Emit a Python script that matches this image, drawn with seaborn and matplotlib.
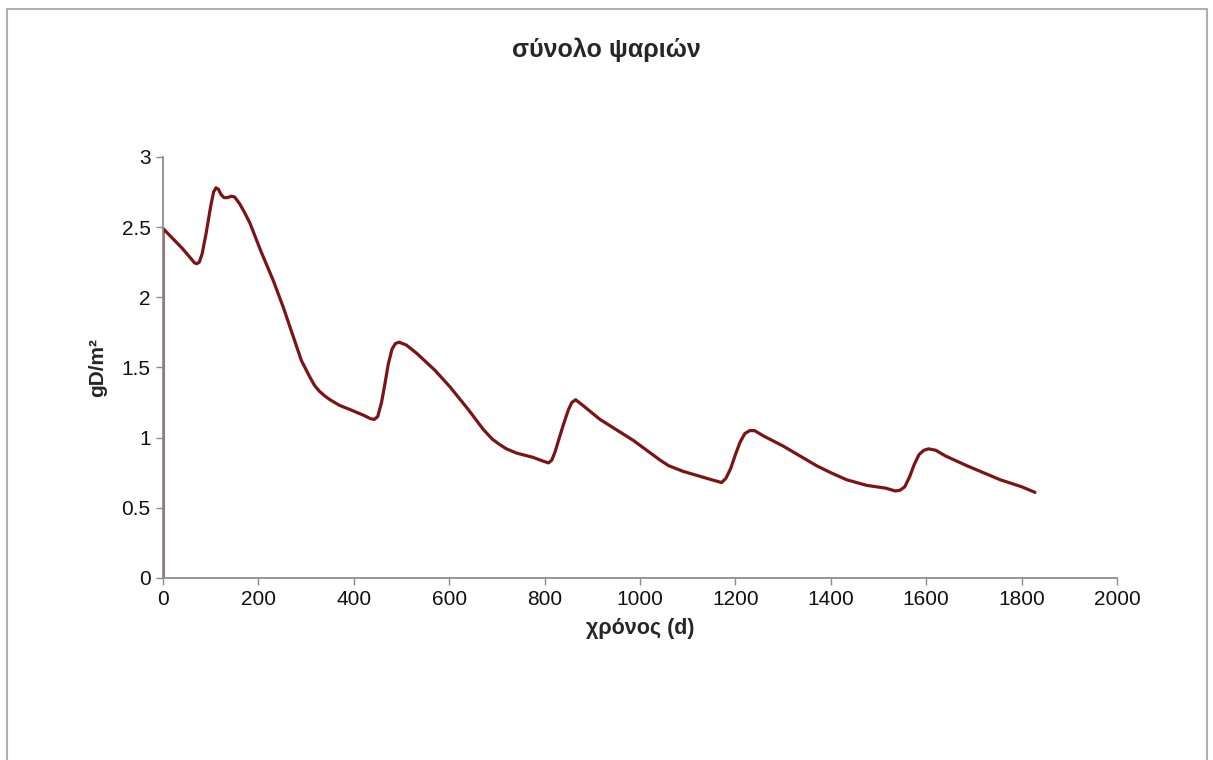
import seaborn as sns
import pandas as pd
import matplotlib.pyplot as plt
from matplotlib.patches import Rectangle

days = [0, 0, 20, 40, 60, 66, 71, 76, 82, 90, 100, 106, 111, 116, 122, 128, 135, 143, 150, 160, 170,
        182, 205, 231, 252, 273, 290, 308, 318, 328, 338, 350, 370, 392, 420, 435, 443, 450, 458, 465,
        472, 480, 487, 495, 510, 532, 570, 602, 640, 671, 690, 706, 720, 741, 775, 795, 808, 815, 822,
        830, 840, 850, 857, 865, 880, 916, 986, 1042, 1060, 1090, 1130, 1150, 1171, 1180, 1190, 1200,
        1210, 1220, 1230, 1240, 1260, 1300, 1370, 1400, 1433, 1475, 1515, 1535, 1545, 1555, 1565, 1575,
        1585, 1595, 1605, 1620, 1640, 1685, 1755, 1800, 1828]
biomass = [0, 2.49, 2.42, 2.35, 2.27, 2.245, 2.24, 2.25, 2.31, 2.45, 2.65, 2.75, 2.78, 2.77, 2.73,
           2.71, 2.71, 2.72, 2.715, 2.67, 2.61, 2.53, 2.33, 2.12, 1.93, 1.72, 1.55, 1.43, 1.37, 1.33,
           1.30, 1.27, 1.23, 1.20, 1.16, 1.135, 1.13, 1.15, 1.25, 1.38, 1.52, 1.63, 1.67, 1.68, 1.66,
           1.60, 1.48, 1.36, 1.20, 1.06, 0.99, 0.95, 0.92, 0.89, 0.86, 0.835, 0.82, 0.84, 0.90, 0.99,
           1.10, 1.20, 1.25, 1.27, 1.23, 1.13, 0.98, 0.84, 0.80, 0.76, 0.72, 0.70, 0.68, 0.71, 0.78,
           0.88, 0.97, 1.03, 1.05, 1.05, 1.01, 0.94, 0.80, 0.75, 0.70, 0.66, 0.64, 0.62, 0.625, 0.65,
           0.72, 0.81, 0.88, 0.91, 0.92, 0.91, 0.87, 0.80, 0.70, 0.65, 0.61]

df = pd.DataFrame({'days': days, 'biomass': biomass})

sns.set_style('white')
plt.rcParams['font.family'] = ['Liberation Sans', 'DejaVu Sans']

fig = plt.figure(figsize=(12.13, 7.6), dpi=100)
ax = fig.add_axes([0.1344, 0.2395, 0.7865, 0.554])
sns.lineplot(data=df, x='days', y='biomass', estimator=None, sort=False,
             color='#7b1416', linewidth=2.3, ax=ax)

ax.set_xlim(0, 2000)
ax.set_ylim(0, 3)
ax.set_xticks(range(0, 2001, 200))
ax.set_yticks([0, 0.5, 1, 1.5, 2, 2.5, 3])
ax.set_yticklabels(['0', '0.5', '1', '1.5', '2', '2.5', '3'])
for s in ['top', 'right']:
    ax.spines[s].set_visible(False)
for s in ['left', 'bottom']:
    ax.spines[s].set_color('#8c8c8c')
    ax.spines[s].set_linewidth(1.3)
ax.tick_params(axis='both', direction='out', length=5, width=1, color='#8c8c8c',
               labelsize=15, labelcolor='#111111', pad=4, left=True, bottom=True)

ax.set_xlabel('χρόνος (d)', fontsize=15.5, fontweight='bold', labelpad=6)
ax.set_ylabel('gD/m²', fontsize=15, fontweight='bold', labelpad=10)
fig.text(0.5, 0.935, 'σύνολο ψαριών', ha='center', va='center', fontsize=18, fontweight='bold')

fig.patches.append(Rectangle((0.006, -0.01), 0.989, 0.998, transform=fig.transFigure,
                             fill=False, edgecolor='#b0b0b0', linewidth=1.5))

fig.savefig('out.png', dpi=100)
